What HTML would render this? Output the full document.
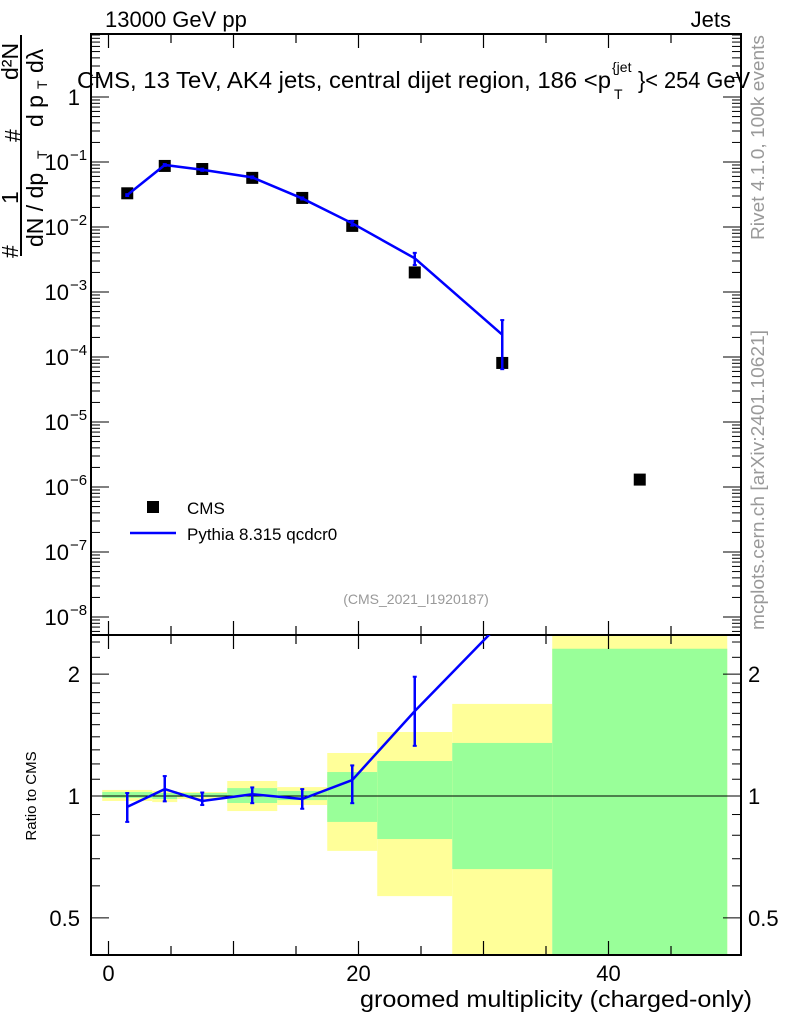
<!DOCTYPE html>
<html><head><meta charset="utf-8"><style>
body{margin:0;background:#fff;}
svg{display:block;font-family:"Liberation Sans",sans-serif;}
</style></head><body>
<svg id="c" width="786" height="1024" viewBox="0 0 786 1024"></svg>
<script>
const binEdges=[-0.5,3.5,5.5,9.5,13.5,17.5,21.5,27.5,35.5,49.5];
const cmsX=[1.5,4.5,7.5,11.5,15.5,19.5,24.5,31.5,42.5];
const cmsY=[0.033,0.087,0.078,0.057,0.028,0.0104,0.002,0.000081,0.0000013];
const pyX=[1.5,4.5,7.5,11.5,15.5,19.5,24.5,31.5];
const pyY=[0.031,0.09,0.076,0.058,0.0275,0.0114,0.0033,0.00022];
const pyErrLo=[0.030,0.087,0.073,0.056,0.0265,0.0105,0.0026,0.000065];
const pyErrHi=[0.032,0.093,0.079,0.060,0.0285,0.0124,0.0040,0.00037];
const ratio=[0.94,1.04,0.972,1.01,0.983,1.095,1.62,2.7];
const ratioLo=[0.863,0.97,0.95,0.96,0.93,0.96,1.33,2.6];
const ratioHi=[1.017,1.12,1.02,1.05,1.04,1.19,1.97,3.5];
const yelLo=[0.972,0.966,0.983,0.918,0.950,0.732,0.566,0.405,0.3];
const yelHi=[1.035,1.029,1.023,1.089,1.052,1.277,1.439,1.688,3];
const grnLo=[0.989,0.983,0.994,0.961,0.977,0.863,0.783,0.660,0.3];
const grnHi=[1.023,1.017,1.017,1.046,1.029,1.146,1.220,1.352,2.31];
const mainTicks=[0,-1,-2,-3,-4,-5,-6,-7,-8];
const mainTickLabels=["1","10","10","10","10","10","10","10","10"];
const ratioTicks=[2,1,0.5];
const xLabels=[0,20,40];

const NS="http://www.w3.org/2000/svg";
const svg=document.getElementById('c');
function el(t,a,p){const e=document.createElementNS(NS,t);for(const k in a)e.setAttribute(k,a[k]);(p||svg).appendChild(e);return e;}
const L=91,R=741,T=34,M=635,B=955;
const X=v=>108.5+v*12.5;
const Y=v=>97-65*Math.log10(v);
const RY=v=>796-405*Math.log10(v);
const clipR=el('clipPath',{id:'cr'});el('rect',{x:L,y:M,width:R-L,height:B-M},clipR);
const clipM=el('clipPath',{id:'cm'});el('rect',{x:L,y:T,width:R-L,height:M-T},clipM);

const gb=el('g',{'clip-path':'url(#cr)'});

for(let i=0;i<yelLo.length;i++){
 const x1=X(binEdges[i]),x2=X(binEdges[i+1]);
 const y=el('rect',{x:x1,y:RY(yelHi[i]),width:x2-x1,height:RY(yelLo[i])-RY(yelHi[i]),fill:'#ffff99'},gb);
 
 const g=el('rect',{x:x1,y:RY(grnHi[i]),width:x2-x1,height:RY(grnLo[i])-RY(grnHi[i]),fill:'#99ff99'},gb);
 
}
el('line',{x1:L,x2:R,y1:RY(1),y2:RY(1),stroke:'#000','stroke-width':1});

for(const [y1,y2] of [[T,M],[M,B]]){
 el('rect',{x:L,y:y1,width:R-L,height:y2-y1,fill:'none',stroke:'#000','stroke-width':2});
}
for(let v=0;v<=45;v+=5){
 const x=X(v),len=(v%10===0)?14:9;
 for(const [y,d] of [[T,1],[M,-1],[M,1],[B,-1]]) el('line',{x1:x,x2:x,y1:y,y2:y+d*len,stroke:'#000','stroke-width':1.2});
}
for(const v of xLabels){const t=el('text',{x:X(v),y:981,'font-size':22,'text-anchor':'middle'});t.textContent=v;
 }
const xt=el('text',{x:360,y:1007,'font-size':23,textLength:392,lengthAdjust:'spacingAndGlyphs'});xt.textContent='groomed multiplicity (charged-only)';


for(let d=1;d>=-9;d--){
 for(let m=1;m<10;m++){const v=m*Math.pow(10,d);const y=Y(v);if(y<T||y>M)continue;
  const len=m===1?18:9;
  el('line',{x1:L,x2:L+len,y1:y,y2:y,stroke:'#000'});el('line',{x1:R,x2:R-len,y1:y,y2:y,stroke:'#000'});}
}
mainTicks.forEach((p,i)=>{const y=Y(Math.pow(10,p));
 const t=el('text',{x:p===0?80:69,y:y+8,'font-size':22,'text-anchor':'end'});t.textContent=mainTickLabels[i];
 
 if(p!==0){const s=el('text',{x:70,y:y-2,'font-size':15});s.textContent='\u2212'+(-p);}
});
[0.4,0.5,0.6,0.7,0.8,0.9,1,1.1,1.2,1.3,1.4,1.5,1.6,1.7,1.8,1.9,2,2.2,2.4].forEach(v=>{const y=RY(v);if(y<M||y>B)return;
 const len=(v===0.5||v===1||v===2)?18:9;
 el('line',{x1:L,x2:L+len,y1:y,y2:y,stroke:'#000'});el('line',{x1:R,x2:R-len,y1:y,y2:y,stroke:'#000'});});
ratioTicks.forEach(v=>{for(const [x,a] of [[80,'end'],[748,'start']]){
 const t=el('text',{x:x,y:RY(v)+8,'font-size':22,'text-anchor':a});t.textContent=v;
 }});
const rt=el('text',{transform:'translate(36,796) rotate(-90)','font-size':15,'text-anchor':'middle'});rt.textContent='Ratio to CMS';


// main y-axis title
const yt=el('g',{});
el('line',{x1:21,x2:21,y1:35,y2:256,stroke:'#000','stroke-width':2},yt);
const rot=(x,y,txt,fs)=>{const t=el('text',{transform:`translate(${x},${y}) rotate(-90)`,'font-size':fs||23},yt);t.textContent=txt;return t;};
rot(18,258,'#');
rot(18,204,'1');
rot(21,142,'#');
rot(18,80,'d²N');
rot(43,247,'dN / dp');
rot(47,159,'T',14);
rot(43,127,'d p');
rot(47,89,'T',14);
rot(43,73,'dλ');

const tl=el('text',{x:105,y:27,'font-size':22});tl.textContent='13000 GeV pp';
const tr=el('text',{x:731,y:27,'font-size':22,'text-anchor':'end'});tr.textContent='Jets';
const ti=el('text',{x:77,y:88,'font-size':23,textLength:534,lengthAdjust:'spacingAndGlyphs'});ti.textContent='CMS, 13 TeV, AK4 jets, central dijet region, 186 <p';

const ti2=el('text',{x:638,y:88,'font-size':23,textLength:112,lengthAdjust:'spacingAndGlyphs'});ti2.textContent='}< 254 GeV';
const ts=el('text',{x:612,y:72,'font-size':14});ts.textContent='{jet';
const ts2=el('text',{x:614,y:99,'font-size':14});ts2.textContent='T';
const an=el('text',{x:416,y:604,'font-size':14,fill:'#999','text-anchor':'middle'});an.textContent='(CMS_2021_I1920187)';

const r1=el('text',{transform:'translate(764,240) rotate(-90)','font-size':18,fill:'#999',textLength:205,lengthAdjust:'spacingAndGlyphs'});r1.textContent='Rivet 4.1.0,  100k events';

const r2=el('text',{transform:'translate(764,630) rotate(-90)','font-size':18,fill:'#999',textLength:300,lengthAdjust:'spacingAndGlyphs'});r2.textContent='mcplots.cern.ch [arXiv:2401.10621]';


const gm=el('g',{'clip-path':'url(#cm)'});
cmsX.forEach((x,i)=>{const r=el('rect',{x:X(x)-6,y:Y(cmsY[i])-6,width:12,height:12,fill:'#000'},gm);
 });
const pl=el('polyline',{points:pyX.map((x,i)=>X(x)+','+Y(pyY[i])).join(' '),fill:'none',stroke:'#0000ff','stroke-width':2.5},gm);

pyX.forEach((x,i)=>{const xx=X(x);
 el('line',{x1:xx,x2:xx,y1:Y(pyErrHi[i]),y2:Y(pyErrLo[i]),stroke:'#0000ff','stroke-width':2.5},gm);
 el('line',{x1:xx-2,x2:xx+2,y1:Y(pyErrHi[i]),y2:Y(pyErrHi[i]),stroke:'#0000ff','stroke-width':2},gm);
 el('line',{x1:xx-2,x2:xx+2,y1:Y(pyErrLo[i]),y2:Y(pyErrLo[i]),stroke:'#0000ff','stroke-width':2},gm);});
const gr=el('g',{'clip-path':'url(#cr)'});
const rl=el('polyline',{points:pyX.map((x,i)=>X(x)+','+RY(ratio[i])).join(' '),fill:'none',stroke:'#0000ff','stroke-width':2.5},gr);

pyX.forEach((x,i)=>{const xx=X(x);
 el('line',{x1:xx,x2:xx,y1:RY(ratioHi[i]),y2:RY(ratioLo[i]),stroke:'#0000ff','stroke-width':2.5},gr);
 el('line',{x1:xx-2,x2:xx+2,y1:RY(ratioHi[i]),y2:RY(ratioHi[i]),stroke:'#0000ff','stroke-width':2},gr);
 el('line',{x1:xx-2,x2:xx+2,y1:RY(ratioLo[i]),y2:RY(ratioLo[i]),stroke:'#0000ff','stroke-width':2},gr);});

const lg=el('g',{});
el('rect',{x:147,y:501,width:12,height:12,fill:'#000'},lg);
const lt1=el('text',{x:187,y:514,'font-size':17},lg);lt1.textContent='CMS';
el('line',{x1:130,x2:176,y1:533,y2:533,stroke:'#0000ff','stroke-width':2.5},lg);
const lt2=el('text',{x:187,y:540,'font-size':17},lg);lt2.textContent='Pythia 8.315 qcdcr0';
</script>
</body></html>
